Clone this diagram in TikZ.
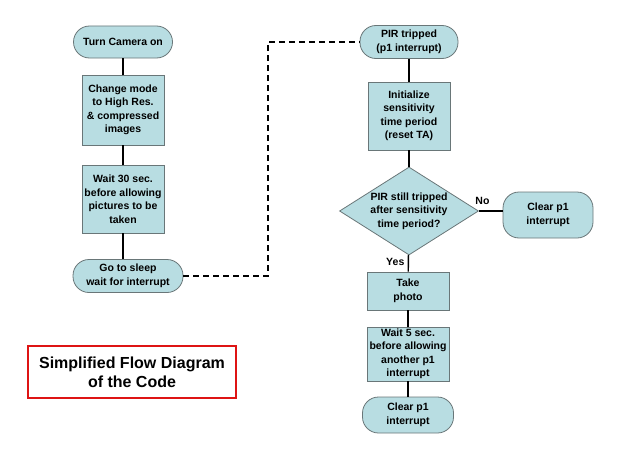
\documentclass[tikz,border=0pt]{standalone}
\usepackage{fontspec}
\setmainfont{Liberation Sans}
\usetikzlibrary{shapes.geometric}
\definecolor{flowfill}{RGB}{184,221,226}
\definecolor{flowedge}{RGB}{105,118,120}
\definecolor{titlered}{RGB}{222,20,20}
\begin{document}
\begin{tikzpicture}[x=1pt,y=-1pt,
    txt/.style={font=\fontsize{10.5}{13.5}\selectfont\bfseries,align=center},
    procbox/.style={txt,draw=flowedge,fill=flowfill,line width=0.8pt,inner sep=1pt,minimum width=82pt},
    termbox/.style={txt,draw=flowedge,fill=flowfill,line width=0.8pt,rounded corners=16pt,inner sep=1pt},
    decbox/.style={txt,diamond,aspect=1.6,draw=flowedge,fill=flowfill,line width=0.8pt,inner sep=-6pt,minimum width=139pt,minimum height=88pt},
    link/.style={black,line width=1.4pt}]
\useasboundingbox (0,0) rectangle (620,460);
%Left column
    \node[termbox,minimum width=99pt,minimum height=32pt] (camera) at (123,42) {Turn Camera on};
    \node[procbox,minimum height=70pt] (mode) at (123,110) {Change mode\\to High Res.\\\& compressed\\images};
    \node[procbox,minimum height=68pt] (wait30) at (123,199) {Wait 30 sec.\\before allowing\\pictures to be\\taken};
    \node[termbox,minimum width=110pt,minimum height=33pt] (sleep) at (128,276) {Go to sleep\\wait for interrupt};
    \draw[link] (camera) -- (mode);
    \draw[link] (mode) -- (wait30);
    \draw[link] (wait30.south) -- (wait30.south |- sleep.north);
%Right column
    \node[termbox,minimum width=98pt,minimum height=33pt] (pir) at (409,42) {PIR tripped\\(p1 interrupt)};
    \node[procbox,minimum height=68pt] (init) at (409,116) {Initialize\\sensitivity\\time period\\(reset TA)};
    \node[decbox] (still) at (409,211) {PIR still tripped\\after sensitivity\\time period?};
    \node[termbox,minimum width=90pt,minimum height=46pt] (clearno) at (548,215) {Clear p1\\interrupt};
    \node[procbox,minimum height=38pt] (photo) at (408,291) {Take\\photo};
    \node[procbox,minimum height=54pt] (wait5) at (408,354) {Wait 5 sec.\\before allowing\\another p1\\interrupt};
    \node[termbox,minimum width=91pt,minimum height=36pt] (clearend) at (408,415) {Clear p1\\interrupt};
    \draw[link] (pir) -- (init);
    \draw[link] (init) -- (still);
    \draw[link] (still.east) -- node[txt,above,pos=0.15,yshift=2pt] (no) {No} (clearno.west |- still.east);
    \draw[link] (still) -- node[txt,left,pos=0.4] (yes) {Yes} (photo);
    \draw[link] (photo) -- (wait5);
    \draw[link] (wait5) -- (clearend);
%Dashed jump between the columns
    \coordinate (bend) at (268,160);
    \draw[black,line width=1.7pt,dash pattern=on 6pt off 4pt] (sleep.east) -| (bend) |- (pir.west);
%Caption
    \node[draw=titlered,line width=2.8pt,minimum width=208pt,minimum height=52pt,align=center,
          font=\fontsize{16}{19}\selectfont\bfseries] (caption) at (132,372) {Simplified Flow Diagram\\of the Code};
\end{tikzpicture}
\end{document}
